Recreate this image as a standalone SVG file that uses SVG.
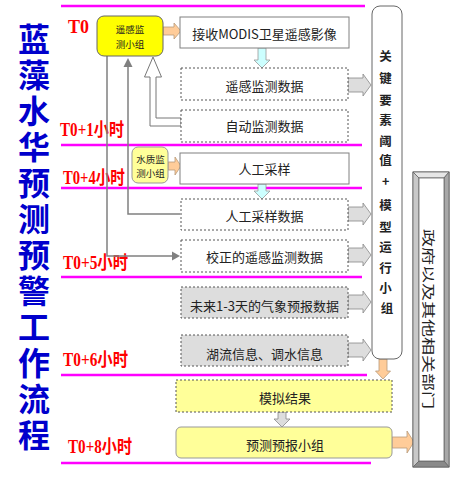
<svg xmlns="http://www.w3.org/2000/svg" width="450" height="477" viewBox="0 0 450 477">
<defs>
<style>
.mag{stroke:#ff00ff;stroke-width:2.5;fill:none}
.time{font-family:"Liberation Serif","Noto Sans CJK SC",serif;font-weight:bold;fill:#ff0000;font-size:18px}
.title{font-family:"Noto Sans CJK SC",sans-serif;font-weight:bold;fill:#0000cc;font-size:32px;writing-mode:vertical-rl;letter-spacing:4px}
.lbl{font-family:"Noto Sans CJK SC","Liberation Sans",sans-serif;font-size:13px;fill:#222;text-anchor:middle}
.small{font-family:"Noto Sans CJK SC",sans-serif;font-size:9.5px;fill:#222;text-anchor:middle}
.key{font-family:"Noto Sans CJK SC",sans-serif;font-size:12.5px;font-weight:bold;fill:#222;text-anchor:middle}
.solid{fill:#fff;stroke:#808080;stroke-width:1}
.dash{fill:#fff;stroke:#555;stroke-width:1;stroke-dasharray:2,2}
.dashg{fill:#dddddd;stroke:#555;stroke-width:1;stroke-dasharray:2,2}
.dashy{fill:#ffff99;stroke:#555;stroke-width:1;stroke-dasharray:2,2}
.orange{fill:#ffcc99;stroke:#b89a7a;stroke-width:0.8}
.cyan{fill:#ccffff;stroke:#999;stroke-width:0.8}
.grayar{fill:#dddddd;stroke:#888;stroke-width:0.8}
.conn{stroke:#808080;stroke-width:1.5;fill:none}
</style>
<path id="rarr" d="M0,-7 H15 V-11 L23,0 L15,11 V7 H0 Z"/>
</defs>

<!-- time lines -->
<g id="timelines">
<line class="mag" x1="61" y1="6" x2="365" y2="6"/>
<line class="mag" x1="61" y1="145" x2="362" y2="145"/>
<line class="mag" x1="61" y1="188" x2="362" y2="188"/>
<line class="mag" x1="61" y1="277" x2="362" y2="277"/>
<line class="mag" x1="61" y1="375" x2="367" y2="375"/>
<line class="mag" x1="61" y1="463" x2="371" y2="463"/>
</g>

<g id="title">
<text class="title" x="34" y="23">蓝藻水华预测预警工作流程</text>
</g>

<g id="times">
<text class="time" x="68" y="33" font-size="20" textLength="21" lengthAdjust="spacingAndGlyphs">T0</text>
<text class="time" x="60" y="136" textLength="64" lengthAdjust="spacingAndGlyphs">T0+1小时</text>
<text class="time" x="63" y="184" font-size="17" textLength="62" lengthAdjust="spacingAndGlyphs">T0+4小时</text>
<text class="time" x="63" y="269" textLength="65" lengthAdjust="spacingAndGlyphs">T0+5小时</text>
<text class="time" x="63" y="366" textLength="65" lengthAdjust="spacingAndGlyphs">T0+6小时</text>
<text class="time" x="68" y="453" textLength="64" lengthAdjust="spacingAndGlyphs">T0+8小时</text>
</g>

<!-- connectors -->
<g id="connectors">
<polyline class="conn" points="107,56 107,256 174,256"/>
<path d="M180,256 L172,251.5 L172,260.5 Z" fill="#808080"/>
<polyline class="conn" points="180,214 128,214 128,66"/>
<path d="M128,58 L123.5,67 L132.5,67 Z" fill="#808080"/>
<polygon points="181,118 156,118 156,77 161.5,77 153,57 144.5,77 150,77 150,126 181,126" fill="#fff" stroke="#777" stroke-width="1"/>
<path class="orange" d="M163,27 H174 V23 L181,31 L174,39 V35 H163 Z"/>
<path class="orange" d="M168,162 H175 V157 L181,166 L175,175 V170 H168 Z"/>
<path class="orange" d="M392,437 H407 V431 L414,442 L407,453 V448 H392 Z"/>
<path class="orange" d="M379,359 V371 H375.5 L383,379 L390.5,371 H387 V359 Z"/>
<path class="cyan" d="M258,48 V60 H254 L262,68 L270,60 H266 V48 Z"/>
<path class="cyan" d="M258,184 V191 H254 L262,199 L270,191 H266 V184 Z"/>
<path class="grayar" d="M278,412 V419 H274 L282,427 L290,419 H286 V412 Z"/>
<use href="#rarr" class="grayar" transform="translate(348,85)"/>
<use href="#rarr" class="grayar" transform="translate(348,214)"/>
<use href="#rarr" class="grayar" transform="translate(348,255)"/>
<use href="#rarr" class="grayar" transform="translate(348,302)"/>
<use href="#rarr" class="grayar" transform="translate(348,350)"/>
</g>

<g id="rs-group">
<rect x="97" y="16" width="66" height="40" rx="7" fill="#ffff00" stroke="#666" stroke-width="1"/>
<text class="small" x="130" y="33">遥感监</text>
<text class="small" x="130" y="48">测小组</text>
</g>

<g id="modis">
<rect class="solid" x="180" y="17" width="169" height="31"/>
<text class="lbl" x="264.5" y="39">接收MODIS卫星遥感影像</text>
</g>

<g id="rs-data">
<rect class="dash" x="181" y="68" width="167" height="32"/>
<text class="lbl" x="264.5" y="90.5">遥感监测数据</text>
</g>

<g id="auto-data">
<rect class="dash" x="181" y="110" width="167" height="32"/>
<text class="lbl" x="264.5" y="131">自动监测数据</text>
</g>

<g id="wq-group">
<rect x="132" y="147" width="36" height="36" rx="6" fill="#ffff99" stroke="#999" stroke-width="1"/>
<text class="small" x="150.5" y="163" font-size="8.5">水质监</text>
<text class="small" x="150.5" y="177" font-size="8.5">测小组</text>
</g>

<g id="sampling">
<rect class="solid" x="180" y="153" width="169" height="31"/>
<text class="lbl" x="264.5" y="174">人工采样</text>
</g>

<g id="sampling-data">
<rect class="dash" x="181" y="199" width="167" height="31"/>
<text class="lbl" x="264.5" y="221">人工采样数据</text>
</g>

<g id="corrected-data">
<rect class="dash" x="181" y="240" width="167" height="32"/>
<text class="lbl" x="264.5" y="262">校正的遥感监测数据</text>
</g>

<g id="weather">
<rect class="dashg" x="181" y="287" width="167" height="31"/>
<text class="lbl" x="264.5" y="310.5">未来1-3天的气象预报数据</text>
</g>

<g id="hydro">
<rect class="dashg" x="181" y="335" width="167" height="31"/>
<text class="lbl" x="264.5" y="358.5">湖流信息、调水信息</text>
</g>

<g id="key-group">
<rect x="372" y="6" width="30" height="353" rx="8" fill="#fff" stroke="#666" stroke-width="1"/>
<text class="key">
<tspan x="387" y="61">关</tspan>
<tspan x="387" y="83">键</tspan>
<tspan x="387" y="105">要</tspan>
<tspan x="387" y="125">素</tspan>
<tspan x="387" y="146">阈</tspan>
<tspan x="387" y="165">值</tspan>
<tspan x="387" y="186">+</tspan>
<tspan x="387" y="210">模</tspan>
<tspan x="387" y="232">型</tspan>
<tspan x="387" y="252">运</tspan>
<tspan x="387" y="273">行</tspan>
<tspan x="387" y="293">小</tspan>
<tspan x="387" y="313">组</tspan>
</text>
</g>

<g id="sim-result">
<rect class="dashy" x="176" y="380" width="216" height="32"/>
<text class="lbl" x="285" y="403">模拟结果</text>
</g>

<g id="forecast-group">
<rect x="176" y="427" width="216" height="31" rx="5" fill="#ffff99" stroke="#999" stroke-width="1"/>
<text class="lbl" x="285" y="450">预测预报小组</text>
</g>

<g id="government">
<rect x="413" y="172" width="36" height="295" fill="#fff" stroke="#666" stroke-width="1"/>
<polygon points="413,172 449,172 444,178 419,178" fill="#e6e6e6" stroke="#666" stroke-width="0.8"/>
<polygon points="413,172 419,178 419,461 413,467" fill="#c8c8c8" stroke="#666" stroke-width="0.8"/>
<polygon points="449,172 449,467 444,461 444,178" fill="#a8a8a8" stroke="#666" stroke-width="0.8"/>
<polygon points="413,467 419,461 444,461 449,467" fill="#8a8a8a" stroke="#666" stroke-width="0.8"/>
<rect x="419" y="178" width="25" height="283" fill="#fff" stroke="#666" stroke-width="0.8"/>
<text class="lbl" x="0" y="0" font-size="16" transform="translate(429,319) rotate(90)" dy="5.5" textLength="180" lengthAdjust="spacingAndGlyphs">政府以及其他相关部门</text>
</g>
</svg>
